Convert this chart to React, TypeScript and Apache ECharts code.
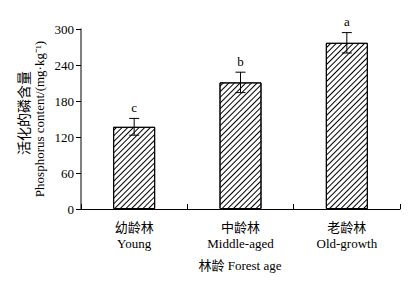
import React, { useEffect, useRef } from "react";
import * as echarts from "echarts";

const categories = ["幼龄林\nYoung", "中龄林\nMiddle-aged", "老龄林\nOld-growth"];
const values = [137, 211, 277];
const errors = [14, 17, 17];
const letters = ["c", "b", "a"];
const yTicks = [0, 60, 120, 180, 240, 300];

const FONT = "'Liberation Serif', 'Times New Roman', 'Noto Sans CJK SC', serif";

export default function App() {
  const ref = useRef<HTMLDivElement>(null);
  useEffect(() => {
    if (!ref.current) return;
    const chart = echarts.init(ref.current, undefined, { renderer: "svg" });
    chart.setOption({
      animation: false,
      textStyle: { fontFamily: FONT },
      grid: { left: 81, right: 12, top: 29, bottom: 73 },
      xAxis: {
        type: "category",
        data: categories,
        axisLine: { lineStyle: { color: "#000", width: 1 } },
        axisTick: { show: true, inside: true, length: 5, alignWithLabel: false, lineStyle: { color: "#000" } },
        axisLabel: { color: "#000", fontSize: 13, fontFamily: FONT, lineHeight: 16, margin: 10 },
      },
      yAxis: {
        type: "value",
        min: yTicks[0],
        max: yTicks[yTicks.length - 1],
        interval: 60,
        splitLine: { show: false },
        axisLine: { show: true, lineStyle: { color: "#555", width: 1.5 } },
        axisTick: { show: true, length: 5, lineStyle: { color: "#000" } },
        axisLabel: { color: "#000", fontSize: 13, fontFamily: FONT, margin: 7 },
      },
      graphic: [
        {
          type: "text",
          x: 24,
          y: 113,
          rotation: Math.PI / 2,
          style: {
            text: "活化的磷含量",
            fontSize: 14,
            fontFamily: FONT,
            fill: "#000",
            textAlign: "center",
            textVerticalAlign: "middle",
          },
        },
        {
          type: "text",
          x: 39,
          y: 119,
          rotation: Math.PI / 2,
          style: {
            text: "Phosphorus content/(mg·kg⁻¹)",
            fontSize: 13,
            fontFamily: FONT,
            fill: "#000",
            textAlign: "center",
            textVerticalAlign: "middle",
          },
        },
        {
          type: "text",
          x: 240,
          y: 265,
          style: {
            text: "林龄 Forest age",
            fontSize: 13,
            fontFamily: FONT,
            fill: "#000",
            textAlign: "center",
            textVerticalAlign: "middle",
          },
        },
      ],
      series: [
        {
          type: "bar",
          data: values,
          barWidth: 42,
          itemStyle: {
            color: "#fff",
            borderColor: "#000",
            borderWidth: 1,
            decal: {
              symbol: "rect",
              symbolSize: 1,
              dashArrayX: [1, 0],
              dashArrayY: [1, 3],
              rotation: -Math.PI / 4,
              color: "#000",
              backgroundColor: "#fff",
            },
          },
        },
        {
          type: "custom",
          data: values.map((v, i) => [i, v, errors[i]]),
          renderItem: (params: any, api: any) => {
            const i = api.value(0);
            const v = api.value(1);
            const e = api.value(2);
            const top = api.coord([i, v + e]);
            const bot = api.coord([i, v - e]);
            const hw = 5;
            const st = { stroke: "#000", lineWidth: 1 };
            return {
              type: "group",
              children: [
                { type: "line", shape: { x1: top[0], y1: top[1], x2: bot[0], y2: bot[1] }, style: st },
                { type: "line", shape: { x1: top[0] - hw, y1: top[1], x2: top[0] + hw, y2: top[1] }, style: st },
                { type: "line", shape: { x1: bot[0] - hw, y1: bot[1], x2: bot[0] + hw, y2: bot[1] }, style: st },
                {
                  type: "text",
                  x: top[0],
                  y: top[1] - 11,
                  style: {
                    text: letters[params.dataIndex],
                    fontSize: 13,
                    fontFamily: FONT,
                    fill: "#000",
                    textAlign: "center",
                    textVerticalAlign: "middle",
                  },
                },
              ],
            };
          },
          z: 10,
        },
      ],
    });
    return () => chart.dispose();
  }, []);
  return <div ref={ref} style={{ width: 412, height: 282, margin: -8 }} />;
}
